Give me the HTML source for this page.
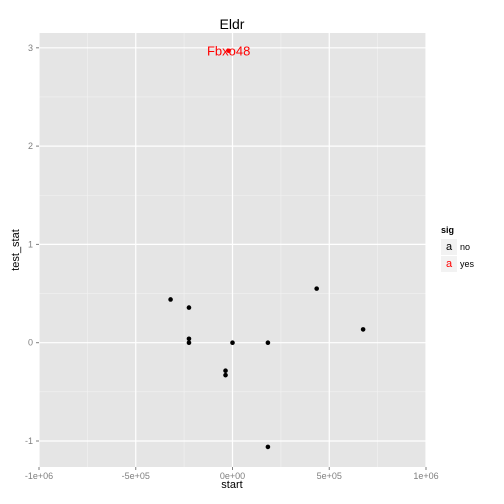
<!DOCTYPE html>
<html><head><meta charset="utf-8"><style>
body{margin:0;background:#fff}
svg{display:block;font-family:"Liberation Sans",sans-serif}
</style></head><body>
<svg id="c" width="504" height="504"></svg>
<script>
const xs=[-320000,-225000,-225000,-225000,0,-36000,-36000,183000,183000,435000,675000];
const ys=[0.44,0.357,0.04,0.0,0.0,-0.285,-0.33,0.0,-1.06,0.55,0.135];
const redX=[-20000];
const redY=[2.97];
const redLabels=["Fbxo48"];
const xTicks=[-1000000,-500000,0,500000,1000000];
const xTickLabels=["-1e+06","-5e+05","0e+00","5e+05","1e+06"];
const yTicks=[-1,0,1,2,3];
const yTickLabels=["-1","0","1","2","3"];
const NS="http://www.w3.org/2000/svg";
const svg=document.getElementById('c');
const L=39,R=426,T=33,B=467;
const sx=v=>232.5+v*(426-39)/2000000;
const sy=v=>342.7-v*98.3;
function el(t,a,p){const e=document.createElementNS(NS,t);for(const k in a)e.setAttribute(k,a[k]);(p||svg).appendChild(e);return e;}
const panel=el('rect',{x:L,y:T,width:R-L,height:B-T,fill:'#e5e5e5'});


for(let i=0;i<xTicks.length-1;i++){const m=(xTicks[i]+xTicks[i+1])/2;el('line',{x1:sx(m),x2:sx(m),y1:T,y2:B,stroke:'#f2f2f2','stroke-width':0.6});}
for(let i=0;i<yTicks.length-1;i++){const m=(yTicks[i]+yTicks[i+1])/2;el('line',{x1:L,x2:R,y1:sy(m),y2:sy(m),stroke:'#f2f2f2','stroke-width':0.6});}
xTicks.forEach((v,i)=>{
 el('line',{x1:sx(v),x2:sx(v),y1:T,y2:B,stroke:'#fff','stroke-width':1.2});
 el('line',{x1:sx(v),x2:sx(v),y1:B,y2:B+3,stroke:'#7f7f7f'});
 const t=el('text',{x:sx(v),y:B+12,'font-size':9,fill:'#7f7f7f','text-anchor':'middle'});t.textContent=xTickLabels[i];
 
 
});
yTicks.forEach((v,i)=>{
 el('line',{x1:L,x2:R,y1:sy(v),y2:sy(v),stroke:'#fff','stroke-width':1.2});
 el('line',{x1:L-3,x2:L,y1:sy(v),y2:sy(v),stroke:'#7f7f7f'});
 const t=el('text',{x:L-6,y:sy(v)+3,'font-size':9,fill:'#7f7f7f','text-anchor':'end'});t.textContent=yTickLabels[i];
 
 
});
xs.forEach((v,i)=>{
 const c=el('circle',{cx:sx(v),cy:sy(ys[i]),r:2.3,fill:'#000'});
 
 
});
redX.forEach((v,i)=>{
 const c=el('circle',{cx:sx(v),cy:sy(redY[i]),r:2.3,fill:'#f00'});
 
 
 const t=el('text',{x:sx(v),y:sy(redY[i])+5,'font-size':13,fill:'#f00','text-anchor':'middle'});t.textContent=redLabels[i];
 
 
});
</script>
<div style="position:absolute;left:0;top:0;width:504px;height:504px;pointer-events:none;font-family:'Liberation Sans',sans-serif">
 <div style="position:absolute;left:232px;top:16px;transform:translateX(-50%);font-size:14px">Eldr</div>
 <div style="position:absolute;left:232px;top:479px;transform:translateX(-50%);font-size:11px">start</div>
 <div style="position:absolute;left:16px;top:250px;transform:translate(-50%,-50%) rotate(-90deg);font-size:11px">test_stat</div>
 <div style="position:absolute;left:441px;top:225px;font-size:9px">
  <div style="font-weight:bold;height:13px">sig</div>
  <div style="height:17px;display:flex;align-items:center"><span style="display:inline-block;width:16px;height:16px;background:#f2f2f2;color:#000;text-align:center;line-height:17px;font-size:11px">a</span><span style="margin-left:3px">no</span></div>
  <div style="height:17px;display:flex;align-items:center"><span style="display:inline-block;width:16px;height:16px;background:#f2f2f2;color:#f00;text-align:center;line-height:17px;font-size:11px">a</span><span style="margin-left:3px">yes</span></div>
 </div>
</div>
</body></html>
